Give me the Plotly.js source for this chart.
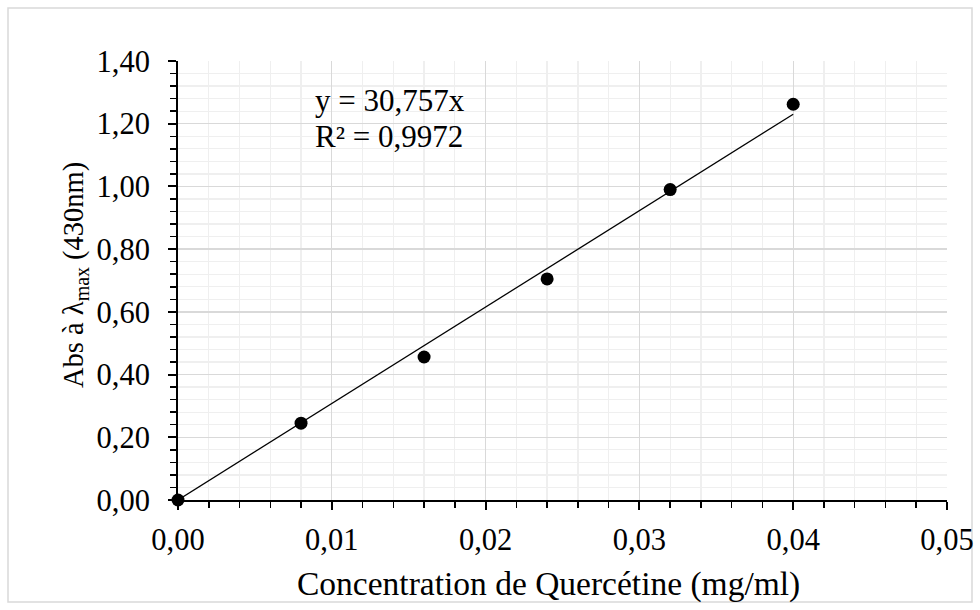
<!DOCTYPE html>
<html>
<head>
<meta charset="utf-8">
<script src="https://cdn.plot.ly/plotly-3.0.1.min.js"></script>
<style>
html,body{margin:0;padding:0;background:#fff;}
#chart{width:980px;height:610px;}
</style>
</head>
<body>
<div id="chart"></div>
<script>
// Data
const conc = [0, 0.008, 0.016, 0.024, 0.032, 0.04];
const absorb = [0.0, 0.245, 0.456, 0.705, 0.990, 1.262];
// Linear trendline y = 30,757x (through origin), endpoints
const trendX = [0, 0.04];
const trendY = [0, 1.2303];
const eqText = ["y = 30,757x", "R² = 0,9972"];
const eqY = [1.2755, 1.1607];
const xTitle = "Concentration de Quercétine (mg/ml)";
const yTitle = "Abs à λ<sub>max</sub> (430nm)";

const font = "'Liberation Serif', 'Times New Roman', serif";

const traces = [
  {
    x: trendX, y: trendY, type: 'scatter', mode: 'lines',
    line: {color: '#000', width: 1.3}, hoverinfo: 'skip', showlegend: false
  },
  {
    x: conc, y: absorb, type: 'scatter', mode: 'markers',
    marker: {color: '#000', size: 13}, cliponaxis: false, showlegend: false
  }
];

const annotations = eqText.map((t, i) => ({
  xref: 'x', yref: 'y', x: 0.0088, y: eqY[i],
  xanchor: 'left', yanchor: 'middle', align: 'left',
  text: t, showarrow: false,
  font: {family: font, size: 31, color: '#000'}
}));
// axis titles (placed as in the reference, slightly off-centre)
annotations.push({
  xref: 'paper', yref: 'paper', x: (548 - 178) / 769, y: (500 - 584) / 439,
  xanchor: 'center', yanchor: 'middle', text: xTitle, showarrow: false,
  font: {family: font, size: 33.5, color: '#000'}
});
annotations.push({
  xref: 'paper', yref: 'paper', x: (75 - 178) / 769, y: (500 - 275) / 439,
  xanchor: 'center', yanchor: 'middle', textangle: -90, text: yTitle, showarrow: false,
  font: {family: font, size: 28.5, color: '#000'}
});

const layout = {
  width: 980, height: 610,
  margin: {l: 178, r: 33, t: 61, b: 110, pad: 0},
  paper_bgcolor: '#fff', plot_bgcolor: '#fff',
  separators: ', ',
  font: {family: font, color: '#000', size: 30},
  showlegend: false,
  xaxis: {
    range: [0, 0.05], dtick: 0.01, tick0: 0, tickformat: '.2f',
    showgrid: true, gridcolor: '#d9d9d9', gridwidth: 1.3,
    zeroline: false, showline: true, linecolor: '#000', linewidth: 2,
    ticks: 'outside', ticklen: 8, tickwidth: 2, tickcolor: '#000',
    ticklabelstandoff: 3,
    tickfont: {family: font, size: 30.5, color: '#000'},
    minor: {dtick: 0.002, showgrid: true, gridcolor: '#efefef', gridwidth: 1.3,
            ticks: 'outside', ticklen: 6, tickwidth: 1.5, tickcolor: '#000'},
    fixedrange: true
  },
  yaxis: {
    range: [0, 1.4], dtick: 0.2, tick0: 0, tickformat: '.2f',
    showgrid: true, gridcolor: '#d9d9d9', gridwidth: 1.3,
    zeroline: false, showline: true, linecolor: '#000', linewidth: 2,
    ticks: 'outside', ticklen: 8, tickwidth: 2, tickcolor: '#000',
    ticklabelstandoff: 12,
    tickfont: {family: font, size: 30.5, color: '#000'},
    minor: {dtick: 0.04, showgrid: true, gridcolor: '#efefef', gridwidth: 1.3,
            ticks: 'outside', ticklen: 6, tickwidth: 1.5, tickcolor: '#000'},
    fixedrange: true
  },
  annotations: annotations,
  shapes: [
    {
      type: 'rect', xref: 'paper', yref: 'paper', layer: 'below',
      x0: (8 - 178) / 769, x1: (972 - 178) / 769,
      y0: (500 - 602) / 439, y1: (500 - 8) / 439,
      line: {color: '#d9d9d9', width: 1.5}, fillcolor: 'rgba(0,0,0,0)'
    }
  ]
};

Plotly.newPlot('chart', traces, layout, {displayModeBar: false, staticPlot: true});
</script>
</body>
</html>
